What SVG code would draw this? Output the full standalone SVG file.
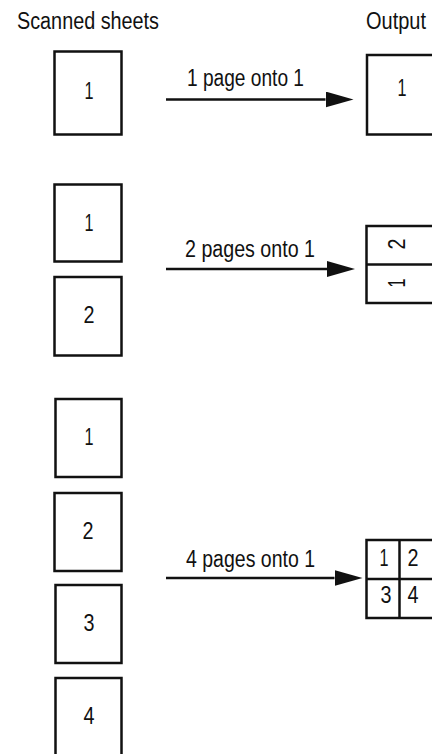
<svg xmlns="http://www.w3.org/2000/svg" width="432" height="754" viewBox="0 0 432 754">
  <style>
    text { font-family: "Liberation Sans", Arial, sans-serif; font-size: 23px; fill: #111; }
    .n { text-anchor: middle; }
    .box { fill: #fff; stroke: #111; stroke-width: 2.5; }
    .div { stroke: #111; stroke-width: 2.5; fill: none; }
    .arrow { stroke: #111; stroke-width: 2.6; fill: none; marker-end: url(#ah); }
  </style>
  <defs>
    <marker id="ah" markerUnits="userSpaceOnUse" markerWidth="28" markerHeight="16" viewBox="0 0 28 16" refX="0" refY="8" orient="auto">
      <path d="M0,0 L28,8 L0,16 z" fill="#111"/>
    </marker>
  </defs>
  <rect width="432" height="754" fill="#fff"/>

  <g id="headers">
    <text x="17" y="29.3" textLength="142" lengthAdjust="spacingAndGlyphs">Scanned sheets</text>
    <text x="366" y="29.3" textLength="60" lengthAdjust="spacingAndGlyphs">Output</text>
  </g>

  <!-- Group 1 -->
  <g id="g1-sheet1">
    <rect class="box" x="54.5" y="51.5" width="67" height="83"/>
    <text class="n" x="89" y="98.5" textLength="9" lengthAdjust="spacingAndGlyphs">1</text>
  </g>
  <g id="g1-output">
    <rect class="box" x="367" y="55" width="68" height="79.5"/>
    <text class="n" x="402" y="95.5" textLength="9" lengthAdjust="spacingAndGlyphs">1</text>
  </g>

  <!-- Group 2 -->
  <g id="g2-sheet1">
    <rect class="box" x="54.5" y="184.5" width="67" height="77"/>
    <text class="n" x="89" y="230.5" textLength="9" lengthAdjust="spacingAndGlyphs">1</text>
  </g>
  <g id="g2-sheet2">
    <rect class="box" x="54.5" y="277" width="67" height="78.5"/>
    <text class="n" x="89" y="323" textLength="11" lengthAdjust="spacingAndGlyphs">2</text>
  </g>
  <g id="g2-output">
    <rect class="box" x="366.5" y="226" width="68" height="77"/>
    <line class="div" x1="366.5" y1="264.5" x2="434" y2="264.5"/>
    <text class="n" transform="translate(405,244) rotate(-90)" textLength="11" lengthAdjust="spacingAndGlyphs">2</text>
    <text class="n" transform="translate(405,283) rotate(-90)" textLength="9" lengthAdjust="spacingAndGlyphs">1</text>
  </g>

  <!-- Group 3 -->
  <g id="g3-sheet1">
    <rect class="box" x="55.5" y="399" width="66" height="78"/>
    <text class="n" x="89" y="444.5" textLength="9" lengthAdjust="spacingAndGlyphs">1</text>
  </g>
  <g id="g3-sheet2">
    <rect class="box" x="54.5" y="493" width="67" height="78"/>
    <text class="n" x="88" y="538.5" textLength="11" lengthAdjust="spacingAndGlyphs">2</text>
  </g>
  <g id="g3-sheet3">
    <rect class="box" x="55.5" y="585" width="66" height="78"/>
    <text class="n" x="89" y="630.5" textLength="11" lengthAdjust="spacingAndGlyphs">3</text>
  </g>
  <g id="g3-sheet4">
    <rect class="box" x="55.5" y="678" width="66" height="90"/>
    <text class="n" x="89" y="723.5" textLength="11" lengthAdjust="spacingAndGlyphs">4</text>
  </g>
  <g id="g3-output">
    <rect class="box" x="366.5" y="540" width="68" height="78"/>
    <line class="div" x1="399.5" y1="540" x2="399.5" y2="618"/>
    <line class="div" x1="366.5" y1="579" x2="434" y2="579"/>
    <text class="n" x="384" y="565.5" textLength="9" lengthAdjust="spacingAndGlyphs">1</text>
    <text class="n" x="413" y="565.5" textLength="11" lengthAdjust="spacingAndGlyphs">2</text>
    <text class="n" x="386" y="602.5" textLength="11" lengthAdjust="spacingAndGlyphs">3</text>
    <text class="n" x="413" y="602.5" textLength="11" lengthAdjust="spacingAndGlyphs">4</text>
  </g>

  <g id="connectors">
    <path class="arrow" d="M166,99.5 H325.5"/>
    <path class="arrow" d="M166,269 H327"/>
    <path class="arrow" d="M166,578 H334.5"/>
    <text x="187" y="86" textLength="117" lengthAdjust="spacingAndGlyphs">1 page onto 1</text>
    <text x="185" y="256.7" textLength="130" lengthAdjust="spacingAndGlyphs">2 pages onto 1</text>
    <text x="186" y="566.7" textLength="129" lengthAdjust="spacingAndGlyphs">4 pages onto 1</text>
  </g>
</svg>
